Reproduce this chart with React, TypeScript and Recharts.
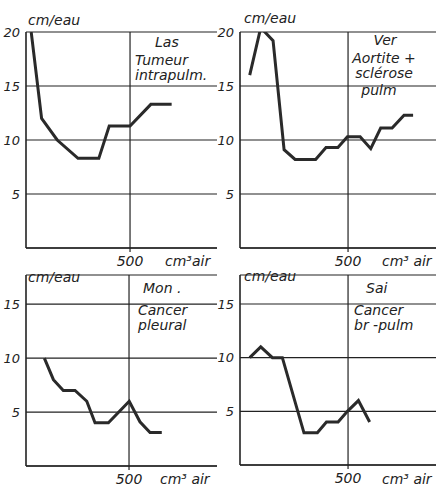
import React from 'react';
import { LineChart, Line, XAxis, YAxis, CartesianGrid, ReferenceLine } from 'recharts';

// Panel 1: Las – Tumeur intrapulm.
const lasVolume = [25, 75, 150, 250, 350, 400, 500, 600, 700];
const lasPressure = [20, 12, 10, 8.3, 8.3, 11.3, 11.3, 13.3, 13.3];
// Panel 2: Ver – Aortite + sclérose pulm
const verVolume = [45, 96, 153, 204, 255, 350, 398, 453, 497, 556, 605, 651, 704, 759, 801];
const verPressure = [16, 20.4, 19.2, 9.1, 8.2, 8.2, 9.3, 9.3, 10.3, 10.3, 9.2, 11.1, 11.1, 12.3, 12.3];
// Panel 3: Mon. – Cancer pleural
const monVolume = [89, 133, 181, 238, 295, 335, 400, 501, 553, 602, 659];
const monPressure = [10, 8, 7, 7, 6, 4, 4, 6, 4.1, 3.1, 3.1];
// Panel 4: Sai – Cancer br-pulm
const saiVolume = [45, 96, 150, 196, 296, 358, 400, 454, 497, 548, 600];
const saiPressure = [10, 11, 10, 10, 3, 3, 4, 4, 5, 6, 4];

const topTicks = [5, 10, 15, 20];
const bottomTicks = [5, 10, 15];
const xTicks = [500];

const FONT = '"DejaVu Sans", sans-serif';
const INK = '#222';

const toRows = (xs: number[], ys: number[]) => xs.map((x, i) => ({ v: x, p: ys[i] }));

type PanelProps = {
  left: number;
  top: number;
  width: number;
  height: number;
  yAxisWidth: number;
  marginTop: number;
  xAxisHeight: number;
  xMax: number;
  yMax: number;
  yTicks: number[];
  rows: { v: number; p: number }[];
};

function Panel(props: PanelProps) {
  const { left, top, width, height, yAxisWidth, marginTop, xAxisHeight, xMax, yMax, yTicks, rows } = props;
  return (
    <div style={{ position: 'absolute', left, top, width, height }}>
      <LineChart
        width={width}
        height={height}
        data={rows}
        margin={{ top: marginTop, right: 2, left: 0, bottom: 0 }}
      >
        <CartesianGrid horizontal vertical={false} stroke={INK} strokeWidth={1.2} strokeDasharray="" />
        <XAxis
          dataKey="v"
          type="number"
          domain={[0, xMax]}
          ticks={xTicks}
          height={xAxisHeight}
          axisLine={{ stroke: INK, strokeWidth: 1.6 }}
          tickLine={{ stroke: INK, strokeWidth: 1.2 }}
          tickSize={4}
          tickMargin={4}
          tick={{ fill: INK, fontSize: 14, fontStyle: 'italic', fontFamily: FONT }}
        />
        <YAxis
          type="number"
          domain={[0, yMax]}
          ticks={yTicks}
          width={yAxisWidth}
          axisLine={{ stroke: INK, strokeWidth: 1.6 }}
          tickLine={false}
          tickSize={0}
          tickMargin={6}
          tick={{ fill: INK, fontSize: 13, fontStyle: 'italic', fontFamily: FONT }}
          allowDataOverflow
        />
        <ReferenceLine x={500} stroke={INK} strokeWidth={1.2} />
        <Line
          type="linear"
          dataKey="p"
          stroke="#2a2a2a"
          strokeWidth={3}
          dot={false}
          isAnimationActive={false}
          strokeLinejoin="miter"
        />
      </LineChart>
    </div>
  );
}

function Txt({ x, y, children, size = 14, center = false }: { x: number; y: number; children: React.ReactNode; size?: number; center?: boolean }) {
  return (
    <div
      style={{
        position: 'absolute',
        left: center ? x - 60 : x,
        width: center ? 120 : undefined,
        textAlign: center ? 'center' : 'left',
        top: y - 2,
        fontSize: size,
        lineHeight: '1',
        fontStyle: 'italic',
        fontFamily: FONT,
        color: INK,
        whiteSpace: 'nowrap',
      }}
    >
      {children}
    </div>
  );
}

export default function App() {
  return (
    <div style={{ position: 'absolute', left: 0, top: 0, width: 438, height: 487, background: '#fff', overflow: 'hidden' }}>
      <Panel left={0} top={0} width={219} height={270} yAxisWidth={26} marginTop={32} xAxisHeight={22} xMax={918} yMax={20} yTicks={topTicks} rows={toRows(lasVolume, lasPressure)} />
      <Panel left={214} top={0} width={224} height={270} yAxisWidth={26} marginTop={32} xAxisHeight={22} xMax={907} yMax={20} yTicks={topTicks} rows={toRows(verVolume, verPressure)} />
      <Panel left={0} top={250} width={219} height={237} yAxisWidth={26} marginTop={25} xAxisHeight={21} xMax={927} yMax={17.7} yTicks={bottomTicks} rows={toRows(monVolume, monPressure)} />
      <Panel left={214} top={250} width={224} height={237} yAxisWidth={26} marginTop={25} xAxisHeight={22} xMax={907} yMax={17.7} yTicks={bottomTicks} rows={toRows(saiVolume, saiPressure)} />

      {/* axis unit labels */}
      <Txt x={28} y={15}>cm/eau</Txt>
      <Txt x={244} y={13}>cm/eau</Txt>
      <Txt x={28} y={272}>cm/eau</Txt>
      <Txt x={244} y={271}>cm/eau</Txt>
      <Txt x={165} y={256}>cm³air</Txt>
      <Txt x={382} y={256}>cm³ air</Txt>
      <Txt x={160} y={474}>cm³ air</Txt>
      <Txt x={382} y={474}>cm³ air</Txt>

      {/* annotations */}
      <Txt x={155} y={37}>Las</Txt>
      <Txt x={135} y={55}>Tumeur</Txt>
      <Txt x={135} y={70}>intrapulm.</Txt>

      <Txt x={385} y={35} center>Ver</Txt>
      <Txt x={384} y={53} center>Aortite +</Txt>
      <Txt x={384} y={68} center>sclérose</Txt>
      <Txt x={379} y={85} center>pulm</Txt>

      <Txt x={143} y={283}>Mon .</Txt>
      <Txt x={138} y={305}>Cancer</Txt>
      <Txt x={138} y={320}>pleural</Txt>

      <Txt x={366} y={283}>Sai</Txt>
      <Txt x={354} y={305}>Cancer</Txt>
      <Txt x={354} y={320}>br -pulm</Txt>
    </div>
  );
}
